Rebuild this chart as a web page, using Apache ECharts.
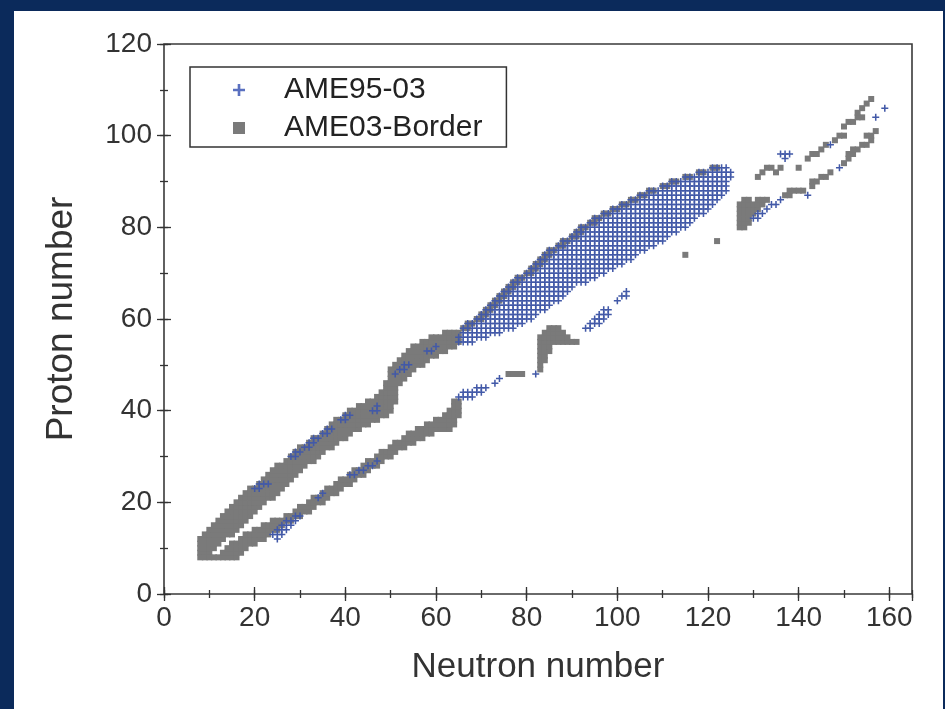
<!DOCTYPE html>
<html><head><meta charset="utf-8">
<script src="https://cdn.jsdelivr.net/npm/echarts@6/dist/echarts.min.js"></script>
<style>
html,body{margin:0;padding:0;background:#0b2a5b;width:945px;height:709px;overflow:hidden;}
#panel{position:absolute;left:14px;top:11px;width:929px;height:698px;background:#fff;}
#chart{position:absolute;left:0;top:0;width:945px;height:709px;}
</style></head><body><div id="panel"></div><div id="chart"></div>
<script>
// Each row: [proton number Z, [neutron numbers N present in that row]]
const ame03ProtonRichRows = [
 [9,[8,9,10]],[10,[8,9,10,11]],[11,[8,9,10,11,12]],[12,[8,9,10,11,12,13]],
 [13,[9,10,11,12,13,14,15]],[14,[10,11,12,13,14,15,16]],[15,[11,12,13,14,15,16,17]],
 [16,[12,13,14,15,16,17,18]],[17,[13,14,15,16,17,18,19]],[18,[14,15,16,17,18,19,20]],
 [19,[15,16,17,18,19,20,21]],[20,[16,17,18,19,20,21,22]],[21,[17,18,19,20,21,22,23,24]],
 [22,[18,19,20,21,22,23,24,25]],[23,[19,20,21,22,23,24,25,26]],[24,[21,22,23,24,25,26,27]],
 [25,[22,23,24,25,26,27,28]],[26,[23,24,25,26,27,28,29]],[27,[24,25,26,27,28,29,30]],
 [28,[25,26,27,28,29,30,31]],[29,[27,28,29,30,31,32,33]],[30,[28,29,30,31,32,33,34]],
 [31,[29,30,31,32,33,34,35]],[32,[30,31,32,33,34,35,36,37]],[33,[32,33,34,35,36,37,38]],
 [34,[33,34,35,36,37,38,39,40]],[35,[35,36,37,38,39,40,41]],[36,[36,37,38,39,40,41,42,43]],
 [37,[37,38,39,40,41,42,43,44,45]],[38,[38,39,40,41,42,43,44,45,46,47]],
 [39,[40,41,42,43,44,45,46,47,48,49]],[40,[41,42,43,44,45,46,47,48,49,50]],
 [41,[43,44,45,46,47,48,49,50]],[42,[45,46,47,48,49,50,51]],[43,[47,48,49,50,51]],
 [44,[48,49,50,51]],[45,[49,50,51]],[46,[49,50,51,52]],[47,[50,51,52,53]],
 [48,[50,51,52,53,54]],[49,[50,51,52,53,54,55]],[50,[51,52,53,54,55,56,57]],
 [51,[52,53,54,55,56,57,58]],[52,[53,54,55,56,57,58,59,60]],[53,[54,55,56,57,58,59,60,61,62]],
 [54,[55,56,57,58,59,60,61,62,63,64]],[55,[57,58,59,60,61,62,63,64,65]],
 [56,[59,60,61,62,63,64,65]],[57,[62,63,64,65]]
];
const ame03EdgeRows = [
 [58,[66,67]],[59,[67,68]],[60,[69,70]],[61,[70,71]],[62,[71,72]],[63,[72,73]],[64,[73,74]],
 [65,[74,75]],[66,[75,76]],[67,[76,77]],[68,[77,78]],[69,[78,79]],[70,[80,81]],[71,[81,82]],
 [72,[82,83]],[73,[83,84]],[74,[84,85]],[75,[85,86]],[76,[87,88]],[77,[88,89]],[78,[90,91]],
 [79,[91,92]],[80,[92,93]],[81,[94,95]],[82,[95,96]],[83,[97,98]],[84,[99,100]],[85,[101,102]],
 [86,[103,104]],[87,[105,106]],[88,[107,108]],[89,[110,111]],[90,[112,113]],[91,[115,116]],
 [92,[118,119]],[93,[121,122]]
];
const ame03NeutronRichRows = [
 [8,[8,9,10,11,12,13,14,15,16]],[9,[13,14,15,16,17]],[10,[14,15,16,17,18]],
 [11,[15,16,17,18,19,20]],[12,[17,18,19,20,21,22]],[13,[18,19,20,21,22,23]],
 [14,[20,21,22,23,24,25]],[15,[22,23,24,25,26]],[16,[24,25,26,27,28]],[17,[27,28,29,30]],
 [18,[29,30,31,32]],[19,[30,31,32,33]],[20,[32,33,34,35]],[21,[33,34,35,36]],
 [22,[35,36,37,38]],[23,[36,37,38,39]],[24,[38,39,40,41]],[25,[39,40,41,42]],
 [26,[41,42,43,44]],[27,[42,43,44,45]],[28,[44,45,46,47]],[29,[45,46,47,48]],
 [30,[47,48,49,50]],[31,[48,49,50,51]],[32,[50,51,52,53]],[33,[51,52,53,54,55]],
 [34,[53,54,55,56,57]],[35,[54,55,56,57,58,59]],[36,[56,57,58,59,60,61,62,63]],
 [37,[58,59,60,61,62,63,64]],[38,[60,61,62,63,64]],[39,[62,63,64,65]],[40,[63,64,65]],
 [41,[64,65]],[42,[64,65]],[48,[76,77,78,79]],[49,[83]],[50,[83]],[51,[83,84]],[52,[83,84]],
 [53,[83,84,85]],[54,[83,84,85]],[55,[83,84,85,86,87,88,89,90,91]],[56,[83,84,85,86,87,88,89]],
 [57,[84,85,86,87,88]],[58,[85,86,87]],[74,[115]],[77,[122]],[80,[127,128]],[81,[127,128,129]],
 [82,[127,128,129]],[83,[127,128,129,130]],[84,[127,128,129,130,131]],
 [85,[127,128,129,130,131,132]],[86,[128,129,131,132,133]],[87,[137,138]],
 [88,[138,139,140,141]],[89,[143]],[90,[143,144]],[91,[145,146]],[92,[147]],[94,[150]],
 [95,[151]],[96,[151,152]],[97,[152,153]],[98,[154,155]],[99,[156]],[100,[155,156]],[101,[157]]
];
const ame03HeavyRows = [
 [91,[131]],[92,[132,135]],[93,[133,134,136,140]],[95,[142]],[96,[143,144]],[97,[145]],
 [98,[146]],[99,[148]],[100,[149,150]],[102,[150]],[103,[151,152]],[104,[153,154]],
 [105,[153]],[106,[154]],[107,[155]],[108,[156]]
];
const ame9503DenseRows = [
 [55,[65,66,67,68]],
 [56,[65,66,67,68,69,70,71]],
 [57,[66,67,68,69,70,71,72,73,74]],
 [58,[66,67,68,69,70,71,72,73,74,75,76,77]],
 [59,[67,68,69,70,71,72,73,74,75,76,77,78,79]],
 [60,[69,70,71,72,73,74,75,76,77,78,79,80,81]],
 [61,[70,71,72,73,74,75,76,77,78,79,80,81,82]],
 [62,[71,72,73,74,75,76,77,78,79,80,81,82,83,84]],
 [63,[72,73,74,75,76,77,78,79,80,81,82,83,84,85]],
 [64,[73,74,75,76,77,78,79,80,81,82,83,84,85,86,87]],
 [65,[74,75,76,77,78,79,80,81,82,83,84,85,86,87,88]],
 [66,[75,76,77,78,79,80,81,82,83,84,85,86,87,88,89]],
 [67,[76,77,78,79,80,81,82,83,84,85,86,87,88,89,90]],
 [68,[77,78,79,80,81,82,83,84,85,86,87,88,89,90,91,92,93]],
 [69,[78,79,80,81,82,83,84,85,86,87,88,89,90,91,92,93,94,95]],
 [70,[80,81,82,83,84,85,86,87,88,89,90,91,92,93,94,95,96,97]],
 [71,[81,82,83,84,85,86,87,88,89,90,91,92,93,94,95,96,97,98,99]],
 [72,[82,83,84,85,86,87,88,89,90,91,92,93,94,95,96,97,98,99,100,101]],
 [73,[83,84,85,86,87,88,89,90,91,92,93,94,95,96,97,98,99,100,101,102,103]],
 [74,[84,85,86,87,88,89,90,91,92,93,94,95,96,97,98,99,100,101,102,103,104]],
 [75,[85,86,87,88,89,90,91,92,93,94,95,96,97,98,99,100,101,102,103,104,105,106]],
 [76,[87,88,89,90,91,92,93,94,95,96,97,98,99,100,101,102,103,104,105,106,107,108]],
 [77,[88,89,90,91,92,93,94,95,96,97,98,99,100,101,102,103,104,105,106,107,108,109,110]],
 [78,[90,91,92,93,94,95,96,97,98,99,100,101,102,103,104,105,106,107,108,109,110,111]],
 [79,[91,92,93,94,95,96,97,98,99,100,101,102,103,104,105,106,107,108,109,110,111,112,113]],
 [80,[92,93,94,95,96,97,98,99,100,101,102,103,104,105,106,107,108,109,110,111,112,113,114,115]],
 [81,[94,95,96,97,98,99,100,101,102,103,104,105,106,107,108,109,110,111,112,113,114,115,116]],
 [82,[95,96,97,98,99,100,101,102,103,104,105,106,107,108,109,110,111,112,113,114,115,116,117]],
 [83,[97,98,99,100,101,102,103,104,105,106,107,108,109,110,111,112,113,114,115,116,117,118,119]],
 [84,[99,100,101,102,103,104,105,106,107,108,109,110,111,112,113,114,115,116,117,118,119,120]],
 [85,[101,102,103,104,105,106,107,108,109,110,111,112,113,114,115,116,117,118,119,120,121]],
 [86,[103,104,105,106,107,108,109,110,111,112,113,114,115,116,117,118,119,120,121,122]],
 [87,[105,106,107,108,109,110,111,112,113,114,115,116,117,118,119,120,121,122,123]],
 [88,[107,108,109,110,111,112,113,114,115,116,117,118,119,120,121,122,123,124]],
 [89,[110,111,112,113,114,115,116,117,118,119,120,121,122,123,124]],
 [90,[112,113,114,115,116,117,118,119,120,121,122,123,124]],
 [91,[115,116,117,118,119,120,121,122,123,124,125]],
 [92,[118,119,120,121,122,123,124,125]],
 [93,[121,122,123,124]]
];
const ame9503SparseRows = [
 [12,[25]],[13,[24,25,26]],[14,[25,26,27]],[15,[26,27,28]],[16,[27,28,29]],[17,[29,30]],
 [21,[34]],[22,[35]],[23,[20,21]],[24,[21,22,23]],[26,[41,42]],[27,[43,44]],[28,[45,46]],
 [29,[47]],[30,[28,29]],[31,[29,30]],[32,[31,32]],[33,[32,33]],[34,[33,34]],[35,[35,36]],
 [36,[36,37]],[38,[39,40]],[39,[40,41]],[40,[46,47]],[41,[47]],[43,[65,66,67,68]],
 [44,[66,67,68,69,70]],[45,[69,70,71]],[46,[73]],[47,[74]],[48,[51,82]],[49,[52,53]],
 [50,[53,54]],[53,[58,59]],[54,[60]],[58,[93,94]],[59,[94,95,96]],[60,[95,96,97]],
 [61,[96,97,98]],[62,[97,98]],[64,[100]],[65,[101,102]],[66,[102]],[82,[130,131]],
 [83,[131,132]],[84,[133]],[85,[134,135]],[86,[136]],[87,[142]],[93,[149]],[95,[137]],
 [96,[136,137,138]],[98,[147]],[104,[157]],[106,[159]]
];
const seriesNames = ['AME95-03', 'AME03-Border'];
const axisTitles = ['Neutron number', 'Proton number'];

const toPoints = rows => rows.flatMap(([z, ns]) => ns.map(n => [n, z]));
const borderData = toPoints(ame03ProtonRichRows).concat(toPoints(ame03EdgeRows), toPoints(ame03NeutronRichRows), toPoints(ame03HeavyRows));
const newData = toPoints(ame9503DenseRows).concat(toPoints(ame9503SparseRows));

const FONT = '"Liberation Sans", Arial, Helvetica, sans-serif';
const INK = '#333';
const PLUS = 'path://M3.9,0H6.1V3.9H10V6.1H6.1V10H3.9V6.1H0V3.9H3.9Z';
const SQUARE = 'path://M0,0H10V10H0Z';

function axis(dim, pos, interval, len, withLabels) {
  const a = {
    type: 'value', position: pos, min: 0, max: dim === 'x' ? 165 : 120, interval: interval,
    axisLine: { show: false }, splitLine: { show: false },
    axisTick: { show: true, inside: true, length: len, lineStyle: { color: INK, width: 1.3 } },
    axisLabel: { show: false }
  };
  if (withLabels) {
    a.axisLabel = { show: true, fontSize: 28, color: INK, fontFamily: FONT, margin: dim === 'x' ? 10 : 12, showMaxLabel: dim !== 'x' };
    a.name = dim === 'x' ? axisTitles[0] : axisTitles[1];
    a.nameLocation = 'middle';
    a.nameGap = dim === 'x' ? 56 : 84;
    a.nameTextStyle = { fontSize: dim === 'x' ? 35 : 37, color: INK, fontFamily: FONT };
  }
  return a;
}

const chart = echarts.init(document.getElementById('chart'), null, { renderer: 'canvas' });
chart.setOption({
  animation: false,
  backgroundColor: 'transparent',
  grid: { left: 164, right: 33, top: 44, bottom: 115, show: true, borderColor: '#3a3a3a', borderWidth: 1.6, backgroundColor: 'transparent' },
  xAxis: [axis('x', 'bottom', 20, 7, true), axis('x', 'bottom', 10, 4, false), axis('x', 'top', 20, 7, false), axis('x', 'top', 10, 4, false)],
  yAxis: [axis('y', 'left', 20, 7, true), axis('y', 'left', 10, 4, false), axis('y', 'right', 20, 7, false), axis('y', 'right', 10, 4, false)],
  legend: {
    orient: 'vertical', left: 190, top: 67, selectedMode: false,
    backgroundColor: '#fff', borderColor: '#333', borderWidth: 1.5,
    padding: [8, 24, 4, 43], itemGap: 8, itemWidth: 14, itemHeight: 12,
    textStyle: { fontSize: 30, color: '#222', fontFamily: FONT, padding: [0, 0, 0, 33] },
    data: [{ name: seriesNames[0], icon: PLUS, itemStyle: { color: '#5a70c0' } }, { name: seriesNames[1], icon: SQUARE }]
  },
  series: [
    { name: seriesNames[0], type: 'scatter', xAxisIndex: 0, yAxisIndex: 0, z: 4, silent: true,
      symbol: PLUS, symbolSize: 7, itemStyle: { color: '#4259a8', opacity: 1 }, data: newData },
    { name: seriesNames[1], type: 'scatter', xAxisIndex: 0, yAxisIndex: 0, z: 3, silent: true,
      symbol: 'rect', symbolSize: 6, itemStyle: { color: '#7a7a7a', opacity: 1 }, data: borderData }
  ]
});
</script></body></html>
